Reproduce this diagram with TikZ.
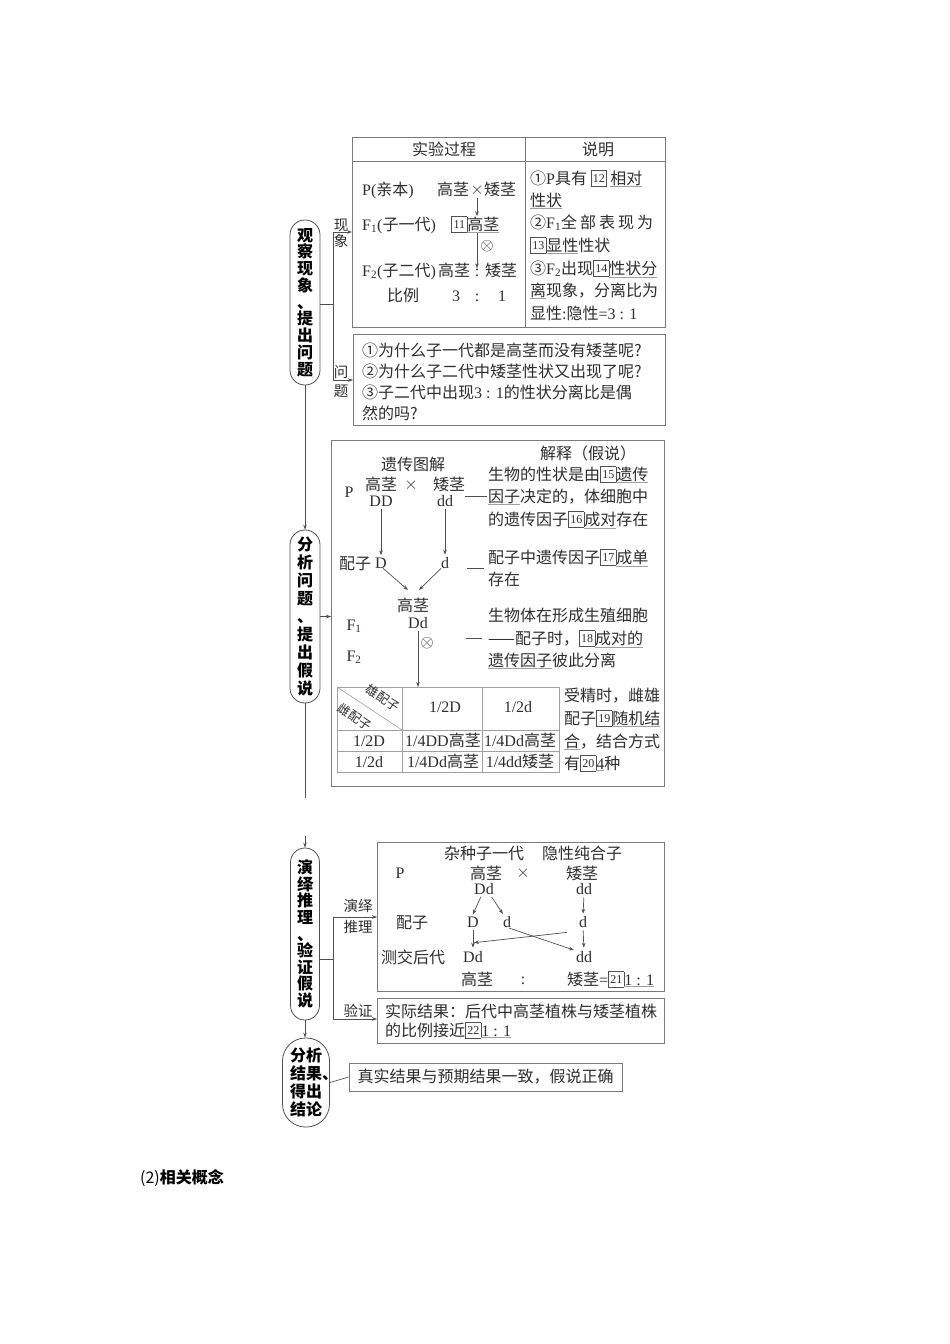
\documentclass[tikz,border=0pt]{standalone}
\usepackage{fontspec}
\setmainfont{Noto Sans CJK SC}
\newfontfamily\latf{Liberation Serif}
\usetikzlibrary{arrows.meta,calc}
\definecolor{txt}{HTML}{2E2E2E}
\definecolor{bd}{HTML}{7A7A7A}
\definecolor{lg}{HTML}{A0A0A0}
\definecolor{pc}{HTML}{505050}
\newcommand\lt[1]{{\latf #1}}
\newcommand\bx[1]{\raisebox{-1.5pt}{\setlength\fboxsep{0pt}\setlength\fboxrule{0.6pt}\textcolor{pc}{\fbox{\makebox[15pt][c]{\rule{0pt}{14.5pt}\raisebox{3pt}{\textcolor{txt}{\latf\fontsize{12}{12}\selectfont #1}}}}}}}
\newcommand\ul[1]{{\color{lg}\underline{\textcolor{txt}{#1}}}}
\begin{document}
\begin{tikzpicture}[x=1pt,y=-1pt,
  t/.style={inner sep=0pt, anchor=base west, text=txt, font=\fontsize{16}{20}\selectfont},
  tc/.style={t, anchor=base},
  sm/.style={tc, font=\fontsize{14.5}{18}\selectfont},
  pill/.style={draw=pc, line width=0.8pt, inner sep=0pt, align=center, text=black, font=\bfseries\fontsize{16}{#1}\selectfont},
  frame/.style={draw=bd, line width=0.8pt, inner sep=0pt},
  tline/.style={draw=lg, line width=0.6pt},
  ln/.style={draw=pc, line width=0.7pt},
  arr/.style={ln, -{Stealth[length=5pt,width=3.6pt]}},
]
\fill[white] (0,0) rectangle (950,1344);
\useasboundingbox (0,0) rectangle (950,1344);

% ---------- pills ----------
\node[pill=16.75, minimum width=30pt, minimum height=165pt, rounded corners=14.9pt] (p1) at (305,302.5) {观\\察\\现\\象\\、\\提\\出\\问\\题};
\node[pill=18, minimum width=30pt, minimum height=173pt, rounded corners=14.9pt] (p2) at (305,616.5) {分\\析\\问\\题\\、\\提\\出\\假\\说};
\node[pill=16.6, minimum width=29pt, minimum height=172pt, rounded corners=14.4pt] (p3) at (305,934) {演\\绎\\推\\理\\、\\验\\证\\假\\说};
\node[pill=18, minimum width=47pt, minimum height=89pt, rounded corners=23pt] (p4) at (306,1082.5) {分析\\结果\rlap{、}\\得出\\结论};

% ---------- spine ----------
\coordinate (s1) at (305,798);
\coordinate (s2) at (305,836);
\draw[arr] (p1.south) -- (p2.north);
\draw[ln] (p2.south) -- (s1);
\draw[arr] (s2) -- (p3.north);
\draw[arr] (p3.south) -- (p3.south |- p4.north);

% ---------- section 1 ----------
\node[frame, anchor=north west, minimum width=313pt, minimum height=190pt] (tbl) at (352,137) {};
\draw[frame] (352,161) -- (665,161);
\draw[frame] (525,137) -- (525,327);
\node[frame, anchor=north west, minimum width=312pt, minimum height=91pt] (qbox) at (353,334) {};

\coordinate (j1) at (333,304);
\coordinate (j1t) at (333,232);
\coordinate (j1b) at (333,380);
\draw[ln] (p1.east |- j1) -- (j1);
\draw[ln] (j1t) -- (j1b);
\draw[arr] (j1t) -- (j1t -| tbl.west);
\draw[arr] (j1b) -- (j1b -| qbox.west);
\node[sm] (l1a) at (341,230.5) {现};
\node[sm] (l1b) at (341,246.5) {象};
\node[sm] (l1c) at (341,377.5) {问};
\node[sm] (l1d) at (341,396.5) {题};

\node[tc] (h1) at (444,155) {实验过程};
\node[tc] (h2) at (598,155) {说明};

\node[t] (pa) at (362,195) {\lt{P(}亲本\lt{)}};
\node[t] (pb) at (437,195) {高茎};
\node[tc] (x1) at (477,194) {$\times$};
\node[t] (pc1) at (484,195) {矮茎};
\node[t] (fa) at (362,230) {\lt{F\textsubscript{1}(}子一代\lt{)}};
\node[t] (f1g) at (451,230) {\bx{11}\ul{高茎}};
\node[t] (fb) at (362,276) {\lt{F\textsubscript{2}(}子二代\lt{)}};
\node[t] (fc) at (438,276) {高茎};
\node[tc] (c2) at (477,276) {\lt{:}};
\node[t] (fd) at (485,276) {矮茎};
\node[t] (ra) at (387,301) {比例};
\node[tc] (rb) at (456,301) {\lt{3}};
\node[tc] (rc) at (477,301) {\lt{:}};
\node[tc] (rd) at (502,301) {\lt{1}};
\node[tc] (ot1) at (487,250) {$\otimes$};
\draw[arr, shorten <=2pt] (x1.south) -- (x1.south |- f1g.north);
\draw[arr] (f1g.south -| x1) -- (c2.north);

\node[t] (r1) at (530,184) {①\lt{P}具有 \bx{12} \ul{相对}};
\node[t] (r2) at (530,206) {\ul{性状}};
\node[t] (r3) at (530,228) {②\lt{F\textsubscript{1}}全\kern3pt 部\kern3pt 表\kern3pt 现\kern3pt 为};
\node[t] (r4) at (530,251) {\bx{13}\ul{显性}性状};
\node[t] (r5) at (530,274) {③\lt{F\textsubscript{2}}出现\bx{14}\ul{性状分}};
\node[t] (r6) at (530,296) {\ul{离}现象，分离比为};
\node[t] (r7) at (530,319) {显性\lt{:}隐性\lt{=3 : 1}};

\node[t] (q1) at (362,356) {①为什么子一代都是高茎而没有矮茎呢?};
\node[t] (q2) at (362,377) {②为什么子二代中矮茎性状又出现了呢?};
\node[t] (q3) at (362,398) {③子二代中出现\lt{3 : 1}的性状分离比是偶};
\node[t] (q4) at (362,419) {然的吗?};

% ---------- section 2 ----------
\node[frame, anchor=north west, minimum width=333pt, minimum height=346pt] (big) at (331,440) {};
\draw[arr] (p2.east) -- (p2.east -| big.west);

\node[tc] (g0) at (413,470) {遗传图解};
\node[tc] (g00) at (588,459) {解释（假说）};
\node[tc] (gP) at (349,497) {\lt{P}};
\node[tc] (gt) at (381,490) {高茎};
\node[tc] (gx) at (411,489) {$\times$};
\node[tc] (gs) at (449,490) {矮茎};
\node[tc] (gDD) at (381,506) {\lt{DD}};
\node[tc] (gdd) at (445,506) {\lt{dd}};
\node[t] (gpz) at (339,569) {配子};
\node[tc] (gD) at (381,568) {\lt{D}};
\node[tc] (gd) at (445,568) {\lt{d}};
\node[tc] (gg) at (413,611) {高茎};
\node[tc] (gDd) at (418,628) {\lt{Dd}};
\node[tc] (gF1) at (354,630) {\lt{F\textsubscript{1}}};
\node[tc] (gF2) at (354,661) {\lt{F\textsubscript{2}}};
\node[tc] (ot2) at (427,647) {$\otimes$};
\coordinate (a1) at (408,590);
\coordinate (a2) at (419,590);
\draw[arr, shorten <=3pt, shorten >=2pt] (gDD.south) -- (gD.north);
\draw[arr, shorten <=3pt, shorten >=2pt] (gdd.south) -- (gd.north);
\draw[arr] ([xshift=2pt]gD.south) -- (a1);
\draw[arr] ([xshift=-4pt]gd.south) -- (a2);

\node[t] (e1) at (488,480) {生物的性状是由\bx{15}\ul{遗传}};
\node[t] (e2) at (488,502) {\ul{因子}决定的，体细胞中};
\node[t] (e3) at (488,525) {的遗传因子\bx{16}\ul{成对}存在};
\node[t] (e4) at (488,563) {配子中遗传因子\bx{17}\ul{成单}};
\node[t] (e5) at (488,585) {存在};
\node[t] (e6) at (488,621) {生物体在形成生殖细胞};
\node[t] (e7) at (488,644) {——配子时，\bx{18}\ul{成对的}};
\node[t] (e8) at (488,666) {\ul{遗传因子}彼此分离};
\coordinate (k1a) at (465,496); \coordinate (k1b) at (487,496);
\coordinate (k2a) at (467,568); \coordinate (k2b) at (484,568);
\coordinate (k3a) at (466,638); \coordinate (k3b) at (482,638);
\draw[ln] (k1a) -- (k1b);
\draw[ln] (k2a) -- (k2b);
\draw[ln] (k3a) -- (k3b);

% Punnett table
\node[draw=lg, line width=0.6pt, inner sep=0pt, anchor=north west, minimum width=222pt, minimum height=85pt] (gtab) at (337,687) {};
\draw[arr, shorten <=3pt] (gDd.south) -- (gDd.south |- gtab.north);
\draw[tline] (402,687) -- (402,772);
\draw[tline] (482,687) -- (482,772);
\draw[tline] (337,730) -- (559,730);
\draw[tline] (337,751) -- (559,751);
\draw[tline] (337,687) -- (402,730);
\node[tc, anchor=center, rotate=-33.5, font=\fontsize{12.5}{12.5}\selectfont] (tm) at (383,698) {雄配子};
\node[tc, anchor=center, rotate=-33.5, font=\fontsize{12.5}{12.5}\selectfont] (tf) at (355,717) {雌配子};
\node[tc] (th1) at (445,712) {\lt{1/2D}};
\node[tc] (th2) at (518,712) {\lt{1/2d}};
\node[tc] (tr1) at (369,746) {\lt{1/2D}};
\node[tc] (tc11) at (443,746) {\lt{1/4DD}高茎};
\node[tc] (tc12) at (520,746) {\lt{1/4Dd}高茎};
\node[tc] (tr2) at (369,767) {\lt{1/2d}};
\node[tc] (tc21) at (443,767) {\lt{1/4Dd}高茎};
\node[tc] (tc22) at (520,767) {\lt{1/4dd}矮茎};
\node[t] (e9) at (564,701) {受精时，雌雄};
\node[t] (e10) at (564,724) {配子\bx{19}\ul{随机结}};
\node[t] (e11) at (564,747) {\ul{合}，结合方式};
\node[t] (e12) at (564,769) {有\bx{20}\ul{\lt{4}}种};

% ---------- section 3 ----------
\node[frame, anchor=north west, minimum width=287pt, minimum height=149pt] (dbox) at (377,842) {};
\node[frame, anchor=north west, minimum width=287pt, minimum height=45pt] (vbox) at (377,998) {};
\coordinate (j3) at (333,959);
\coordinate (j3t) at (333,917);
\coordinate (j3b) at (333,1019);
\draw[ln] (p3.east |- j3) -- (j3);
\draw[ln] (j3t) -- (j3b);
\draw[arr] (j3t) -- (j3t -| dbox.west);
\draw[arr] (j3b) -- (j3b -| vbox.west);
\node[sm] (l3a) at (358,911.5) {演绎};
\node[sm] (l3b) at (358,932.5) {推理};
\node[sm] (l3c) at (358,1016.5) {验证};

\node[tc] (d1) at (484,859) {杂种子一代};
\node[tc] (d2) at (582,859) {隐性纯合子};
\node[tc] (dP) at (400,878) {\lt{P}};
\node[tc] (dt) at (486,879) {高茎};
\node[tc] (dx) at (523,877) {$\times$};
\node[tc] (ds) at (582,879) {矮茎};
\node[tc] (pdd) at (484,894) {\lt{Dd}};
\node[tc] (prr) at (584,894) {\lt{dd}};
\node[tc] (dpz) at (412,928) {配子};
\node[tc] (gD2) at (473,927) {\lt{D}};
\node[tc] (gd1) at (507,927) {\lt{d}};
\node[tc] (gd2) at (583,927) {\lt{d}};
\node[tc] (dcj) at (413,963) {测交后代};
\node[tc] (oDd) at (473,962) {\lt{Dd}};
\node[tc] (odd) at (584,962) {\lt{dd}};
\node[tc] (dg) at (477,985) {高茎};
\node[tc] (dcol) at (523,984) {\lt{:}};
\node[t] (dr) at (567,985) {矮茎\lt{=}\bx{21}\ul{\lt{1 : 1}}};
\draw[arr, shorten <=3pt, shorten >=2pt] ([xshift=-2pt]pdd.south) -- ([xshift=-1pt]gD2.north);
\draw[arr, shorten <=3pt, shorten >=2pt] ([xshift=6pt]pdd.south) -- ([xshift=-3pt]gd1.north);
\draw[arr, shorten <=3pt, shorten >=2pt] (prr.south) -- (gd2.north);
\draw[arr, shorten <=3pt, shorten >=3pt] (gD2.south) -- (oDd.north);
\draw[arr, shorten <=3pt, shorten >=3pt] (gd2.south) -- (odd.north);
\draw[arr, shorten <=2pt, shorten >=2pt] (gd1.south) -- (odd.north west);
\draw[arr] ([xshift=-16pt,yshift=-5pt]gd2.south) -- ([xshift=1pt,yshift=8pt]oDd.north);

\node[t] (v1) at (385,1017) {实际结果：后代中高茎植株与矮茎植株};
\node[t] (v2) at (385,1036) {的比例接近\bx{22}\ul{\lt{1 : 1}}};

% ---------- section 4 ----------
\node[frame, minimum width=273pt, minimum height=28pt, text=txt, font=\fontsize{16}{20}\selectfont] (cbox) at (485.5,1077) {真实结果与预期结果一致，假说正确};
\draw[ln] (p4.east) -- (cbox.west);

\node[t, text=black] (sec2) at (140,1183) {(2){\bfseries 相关概念}};
\end{tikzpicture}
\end{document}
